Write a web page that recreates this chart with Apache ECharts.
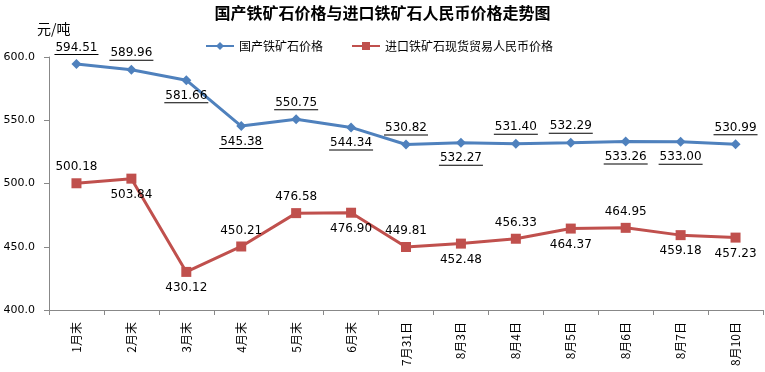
<!DOCTYPE html>
<html><head><meta charset="utf-8">
<script src="https://cdn.jsdelivr.net/npm/echarts@6/dist/echarts.min.js"></script>
<style>html,body{margin:0;padding:0;background:#fff}#c{width:765px;height:372px}</style>
</head><body><div id="c"></div>
<script>
const categories = ['1月末','2月末','3月末','4月末','5月末','6月末','7月31日','8月3日','8月4日','8月5日','8月6日','8月7日','8月10日'];
const domestic = [594.51,589.96,581.66,545.38,550.75,544.34,530.82,532.27,531.40,532.29,533.26,533.00,530.99];
const imported = [500.18,503.84,430.12,450.21,476.58,476.90,449.81,452.48,456.33,464.37,464.95,459.18,457.23];
const domesticPos = ['top','top','bottom','bottom','top','bottom','top','bottom','top','top','bottom','bottom','top'];
const importedPos = ['top','bottom','bottom','top','top','bottom','top','bottom','top','bottom','top','bottom','bottom'];
const yTicks = {min:400, max:600, interval:50};

const font = '"Noto Sans CJK SC", "DejaVu Sans", sans-serif';
const chart = echarts.init(document.getElementById('c'));
chart.setOption({
  animation:false,
  backgroundColor:'#fff',
  title:{text:'国产铁矿石价格与进口铁矿石人民币价格走势图',left:'center',top:0,
    textStyle:{fontSize:16,fontWeight:'bold',color:'#000',fontFamily:font}},
  legend:{top:35,left:200,itemGap:28,itemWidth:28,itemHeight:10,
    textStyle:{fontSize:12,color:'#000',fontFamily:font},
    data:['国产铁矿石价格','进口铁矿石现货贸易人民币价格']},
  grid:{left:49,right:2,top:57,bottom:62,containLabel:false},
  graphic:[{type:'text',left:37,top:22,style:{text:'元/吨',fontSize:14,fill:'#000',fontFamily:font}}],
  xAxis:{type:'category',data:categories,boundaryGap:true,
    axisLine:{lineStyle:{color:'#888'}},
    axisTick:{show:true,length:5,lineStyle:{color:'#888'}},
    axisLabel:{rotate:90,fontSize:12,color:'#000',fontFamily:font,margin:12}},
  yAxis:{type:'value',min:yTicks.min,max:yTicks.max,interval:yTicks.interval,
    axisLine:{show:true,lineStyle:{color:'#888'}},
    axisTick:{show:true,length:5,lineStyle:{color:'#888'}},
    splitLine:{show:false},
    axisLabel:{formatter:v=>v.toFixed(1),fontSize:11,color:'#000',fontFamily:'"DejaVu Sans", sans-serif',margin:14}},
  series:[
    {name:'国产铁矿石价格',type:'line',data:domestic.map((v,i)=>({value:v,label:{position:domesticPos[i]}})),
      symbol:'diamond',symbolSize:10,itemStyle:{color:'#4F81BD'},lineStyle:{width:3,color:'#4F81BD'},
      label:{show:true,color:'#000',fontSize:12,fontFamily:'"DejaVu Sans", sans-serif',distance:4,
        formatter:p=>'{a|'+p.value.toFixed(2)+'}\n{u|}',
        rich:{a:{fontSize:12,color:'#000',lineHeight:13,fontFamily:'"DejaVu Sans", sans-serif'},
              u:{width:44,height:1,lineHeight:1,backgroundColor:'#000'}}}},
    {name:'进口铁矿石现货贸易人民币价格',type:'line',data:imported.map((v,i)=>({value:v,label:{position:importedPos[i]}})),
      symbol:'rect',symbolSize:10,itemStyle:{color:'#C0504D'},lineStyle:{width:3,color:'#C0504D'},
      label:{show:true,color:'#000',fontSize:12,fontFamily:'"DejaVu Sans", sans-serif',distance:5,
        formatter:p=>p.value.toFixed(2)}}
  ]
});
</script></body></html>
